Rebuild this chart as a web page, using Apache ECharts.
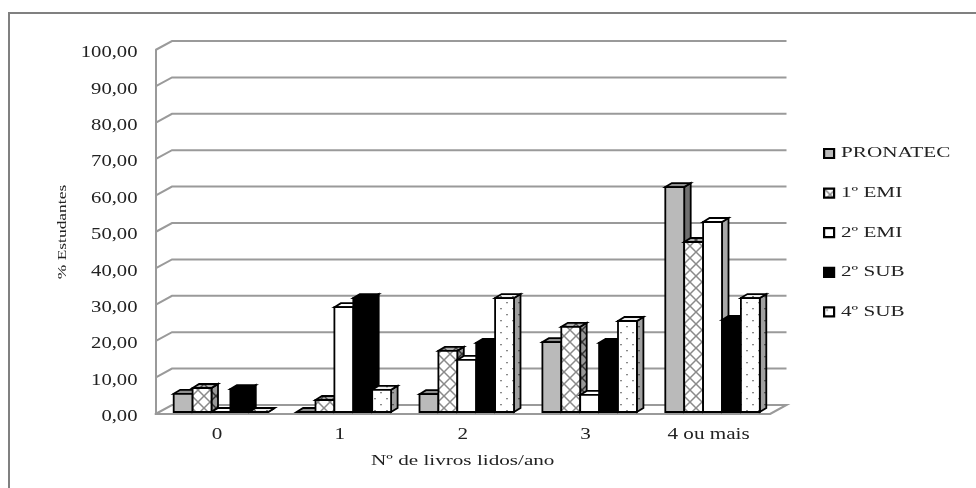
<!DOCTYPE html>
<html><head><meta charset="utf-8">
<style>html,body{margin:0;padding:0;background:#fff}#c{width:976px;height:488px}</style>
<script src="https://cdn.jsdelivr.net/npm/echarts@6/dist/echarts.min.js"></script>
</head><body><div id="c"></div>
<script>
const categories = ['0','1','2','3','4 ou mais'];
const yTicks = [0,10,20,30,40,50,60,70,80,90,100];
const seriesNames = ['PRONATEC','1º EMI','2º EMI','2º SUB','4º SUB'];
const pronatec = [5,0,4.9,19.2,61.8];
const emi1 = [6.6,3.3,16.8,23.4,46.7];
const emi2 = [0,28.8,14.3,4.7,52.2];
const sub2 = [6.3,31.3,19,19,25.3];
const sub4 = [0,6.1,31.3,25,31.3];
const seriesValues = [pronatec,emi1,emi2,sub2,sub4];

function hatch(bg,fg){
  const c=document.createElement('canvas');c.width=c.height=12;const g=c.getContext('2d');
  g.fillStyle=bg;g.fillRect(0,0,12,12);g.strokeStyle=fg;g.lineWidth=1.5;
  g.beginPath();g.moveTo(0,0);g.lineTo(12,12);g.moveTo(12,0);g.lineTo(0,12);g.stroke();return c;
}
function dots(bg,fg){
  const c=document.createElement('canvas');c.width=c.height=12;const g=c.getContext('2d');
  g.fillStyle=bg;g.fillRect(0,0,12,12);g.fillStyle=fg;
  g.fillRect(2,2,2,1.3);g.fillRect(8,8,2,1.3);return c;
}
const pat=c=>({image:c,repeat:'repeat'});
const faces = [
  {front:'#bababa',top:'#8e8e8e',side:'#707070'},
  {front:pat(hatch('#ffffff','#8a8a8a')),top:pat(hatch('#aaaaaa','#444444')),side:pat(hatch('#999999','#333333'))},
  {front:'#ffffff',top:'#ffffff',side:'#a8a8a8'},
  {front:'#000000',top:'#000000',side:'#000000'},
  {front:pat(dots('#ffffff','#8a8a8a')),top:pat(dots('#eeeeee','#777777')),side:pat(dots('#a0a0a0','#555555'))}
];
const DX=16.5,DY=-9,BW=18.9,BDX=6.5,BDY=-4,BASE=-2;

function wall(params,api){
  const t=api.value(1),p=api.coord([0,t]),band=api.size([1,0])[0];
  const x0=p[0]-band/2,x1=p[0]+band*4.5;
  const points=[[x0,p[1]],[x0+DX,p[1]+DY],[x1+DX,p[1]+DY]];
  if(t===0)points.push([x1,p[1]]);
  return {type:'polyline',shape:{points},style:{fill:null,stroke:'#9a9a9a',lineWidth:2}};
}
function bar(si){
  return function(params,api){
    const p=api.coord([api.value(0),api.value(1)]),b=api.coord([api.value(0),0]);
    const l=p[0]+4-BW*2.5+si*BW,r=l+BW,t=p[1]+BASE,bo=b[1]+BASE;
    const st=f=>({fill:f,stroke:'#000',lineWidth:1.8,lineJoin:'miter'});
    return {type:'group',children:[
      {type:'polygon',shape:{points:[[r,t],[r+BDX,t+BDY],[r+BDX,bo+BDY],[r,bo]]},style:st(faces[si].side)},
      {type:'polygon',shape:{points:[[l,t],[l+BDX,t+BDY],[r+BDX,t+BDY],[r,t]]},style:st(faces[si].top)},
      {type:'rect',shape:{x:l,y:t,width:BW,height:bo-t},style:st(faces[si].front)}
    ]};
  };
}
const font='"Liberation Serif"';
const series=[{
  type:'custom',name:'wall',silent:true,clip:false,z:1,renderItem:wall,
  data:yTicks.map(t=>[0,t]),encode:{x:0,y:1}
}];
seriesNames.forEach((n,i)=>series.push({
  type:'custom',name:n,clip:false,z:2+i,renderItem:bar(i),
  itemStyle:{color:faces[i].front},
  data:seriesValues[i].map((v,k)=>[k,v]),encode:{x:0,y:1}
}));
const axisLine={show:true,lineStyle:{color:'#9a9a9a',width:2}};
const chart=echarts.init(document.getElementById('c'),null,{renderer:'canvas'});
chart.setOption({
  animation:false,backgroundColor:'#fff',
  graphic:[
    {type:'polyline',silent:true,z:0,shape:{points:[[9,488],[9,13],[976,13]]},style:{fill:null,stroke:'#808080',lineWidth:2}}
  ],
  grid:{left:155.5,top:50,width:614.5,height:364,containLabel:false},
  legend:{orient:'vertical',left:818,top:141,itemWidth:10,itemHeight:9,itemGap:24.6,icon:'rect',
    textStyle:{fontFamily:font,fontSize:15,color:'#222',padding:[0,0,0,-3]},
    data:seriesNames.map((n,i)=>({name:n,icon:'rect',itemStyle:{color:faces[i].front,borderColor:'#000',borderWidth:2.2}}))},
  xAxis:{type:'category',data:categories,name:'Nº de livros lidos/ano',nameLocation:'middle',nameGap:40,
    nameTextStyle:{fontFamily:font,fontSize:15,color:'#222'},
    axisLine,axisTick:{show:false},splitLine:{show:false},
    axisLabel:{fontFamily:font,fontSize:16,color:'#222',margin:13}},
  yAxis:{type:'value',min:0,max:100,interval:10,name:'% Estudantes',nameLocation:'middle',nameGap:86,
    nameTextStyle:{fontFamily:font,fontSize:13.5,color:'#222'},
    axisLine,axisTick:{show:false},splitLine:{show:false},
    axisLabel:{fontFamily:font,fontSize:16,color:'#222',margin:18,formatter:v=>v.toFixed(2).replace('.',',')}},
  series
});
// The reference's text is stretched along its baseline; widen the library's own text elements to match.
const zr=chart.getZr();
zr.storage.traverse(el=>{
  if(el.type==='text'){
    const tick=el.style&&el.style.fontSize===16;
    el.scaleX=el.rotation?1.29:(tick?1.32:1.41);
    if(tick&&/,/.test(el.style.text||''))el.y+=3;
    el.markRedraw&&el.markRedraw();
  }
});
zr.refreshImmediately&&zr.refreshImmediately();
</script></body></html>
